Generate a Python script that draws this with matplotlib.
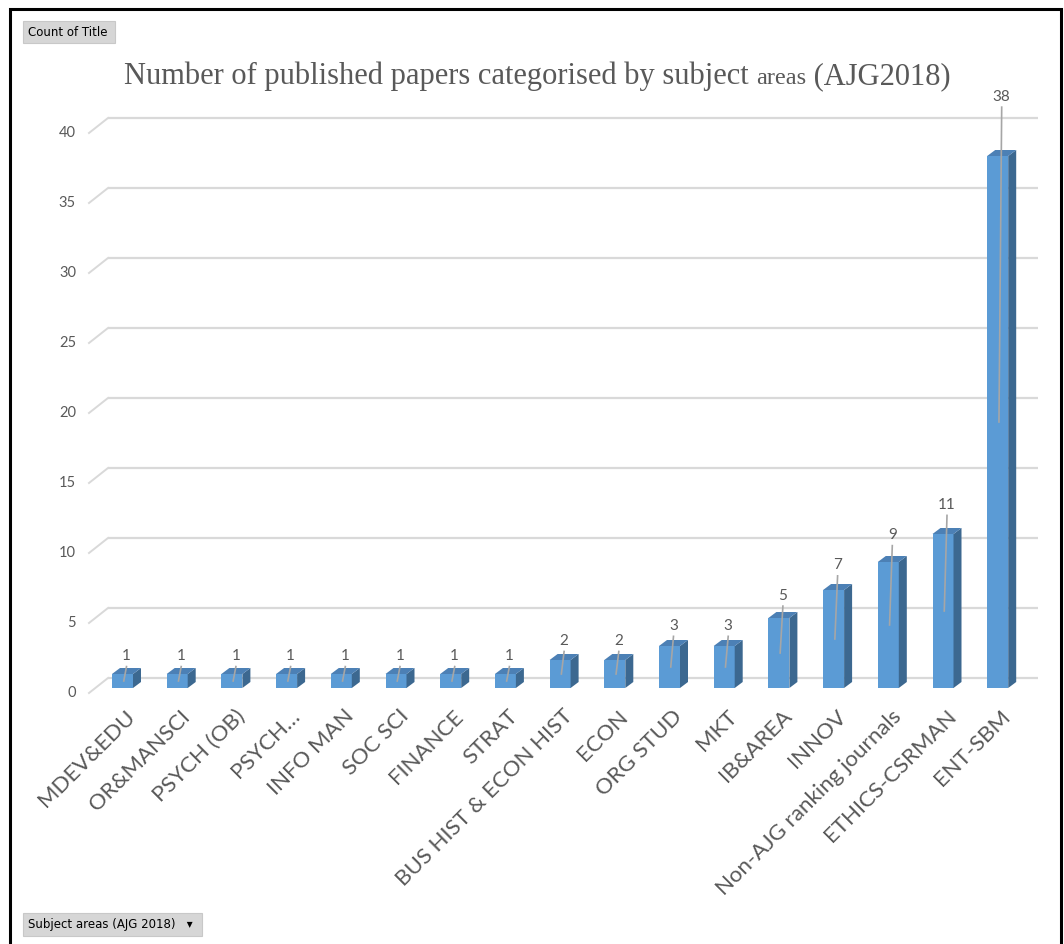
import matplotlib.pyplot as plt
from matplotlib.patches import Polygon, Rectangle
import numpy as np

# ---------------- data ----------------
categories = ["MDEV&EDU", "OR&MANSCI", "PSYCH (OB)", "PSYCH…", "INFO MAN", "SOC SCI",
              "FINANCE", "STRAT", "BUS HIST & ECON HIST", "ECON", "ORG STUD", "MKT",
              "IB&AREA", "INNOV", "Non-AJG ranking journals", "ETHICS-CSRMAN", "ENT-SBM"]
counts = [1, 1, 1, 1, 1, 1, 1, 1, 2, 2, 3, 3, 5, 7, 9, 11, 38]
y_ticks = [0, 5, 10, 15, 20, 25, 30, 35, 40]

title_parts = ["Number of published papers categorised by subject ", "areas", " (AJG2018)"]

# ---------------- styles ----------------
FRONT = "#5B9BD5"
SIDE = "#3C6890"
TOP = "#4C80B5"
GRID = "#D9D9D9"
TXT = "#595959"
LEADER = "#A6A6A6"
SANS = ["Lato", "DejaVu Sans"]

W, H = 1064, 944
fig = plt.figure(figsize=(W / 100, H / 100), dpi=100)
fig.patch.set_facecolor("white")

# pixel layout of the plot area (category index / value -> pixels)
X0, DX = 122.5, 54.7
Y0, DY = 688.0, 14.0
xlo, xhi = -0.75, 16.8
ylo, yhi = -0.6, 43.0
left = (X0 + DX * xlo) / W
right = (X0 + DX * xhi) / W
bottom = (H - (Y0 - DY * ylo)) / H
top = (H - (Y0 - DY * yhi)) / H
ax = fig.add_axes([left, bottom, right - left, top - bottom])
ax.set_xlim(xlo, xhi)
ax.set_ylim(ylo, yhi)
ax.axis("off")

# ---------------- back wall grid (3D look) ----------------
front_x = (89 - X0) / DX
back_x = (108 - X0) / DX
end_x = (1038 - X0) / DX
front_dy = -5 / DY
back_dy = 10 / DY
for v in y_ticks:
    ax.plot([back_x, end_x], [v + back_dy, v + back_dy], color=GRID, lw=1.6,
            zorder=1, clip_on=False, solid_capstyle="butt")
    ax.plot([front_x, back_x], [v + front_dy, v + back_dy], color=GRID, lw=1.4,
            zorder=1, clip_on=False)
    ax.text((76 - X0) / DX, v + front_dy, str(v), ha="right", va="center",
            fontsize=10.5, color=TXT, family=SANS)

# ---------------- bars ----------------
x = np.arange(len(categories))
bw = 21 / DX
ddx = 8 / DX
ddy = 6 / DY
bars = ax.bar(x, counts, width=bw, color=FRONT, zorder=3, linewidth=0)
for b in bars:
    bx, bwid, bh = b.get_x(), b.get_width(), b.get_height()
    side = Polygon([(bx + bwid, 0), (bx + bwid + ddx, ddy), (bx + bwid + ddx, bh + ddy),
                    (bx + bwid, bh)], closed=True, facecolor=SIDE, edgecolor="none", zorder=3)
    topf = Polygon([(bx, bh), (bx + ddx, bh + ddy), (bx + bwid + ddx, bh + ddy),
                    (bx + bwid, bh)], closed=True, facecolor=TOP, edgecolor="none", zorder=3)
    ax.add_patch(side)
    ax.add_patch(topf)

# ---------------- data labels with leader lines ----------------
for xi, v in zip(x, counts):
    ly = v + 1.2 + 0.08 * v
    lx = xi + ddx / 2
    ax.text(lx, ly, str(v), ha="center", va="center", fontsize=11, color=TXT,
            family=SANS, zorder=5)
    ax.plot([lx, lx - 0.05], [ly - 0.75, v / 2], color=LEADER, lw=1.2, zorder=4)

# ---------------- category labels ----------------
for xi, name in zip(x, categories):
    ax.text(xi + 0.05, -1.3, name, rotation=45, rotation_mode="anchor",
            ha="right", va="top", fontsize=16, color=TXT, family=SANS, clip_on=False)

# ---------------- title (mixed sizes) ----------------
sizes = [22, 17.5, 22]
renderer = fig.canvas.get_renderer()
pieces = []
for txt, s in zip(title_parts, sizes):
    t = fig.text(0, 1 - 84 / H, txt, fontsize=s, color=TXT, ha="left", va="baseline",
                 family=["Liberation Serif", "DejaVu Serif"])
    pieces.append(t)
widths = [p.get_window_extent(renderer).width for p in pieces]
start = 537 - sum(widths) / 2
for p, wdt in zip(pieces, widths):
    p.set_x(start / W)
    start += wdt

# ---------------- pivot buttons ----------------
def button(x0, y0, x1, y1, label):
    fig.patches.append(Rectangle((x0 / W, 1 - y1 / H), (x1 - x0) / W, (y1 - y0) / H,
                                 transform=fig.transFigure, facecolor="#D6D6D6",
                                 edgecolor="#C8C8C8", lw=0.8))
    fig.text((x0 + 5) / W, 1 - (y0 + y1) / 2 / H, label, ha="left", va="center",
             fontsize=8.5, color="black", family=["DejaVu Sans"])

button(23, 21, 115, 43, "Count of Title")
button(23, 913, 202, 936, "Subject areas (AJG 2018)   ▾")

# ---------------- outer frame ----------------
fig.patches.append(Rectangle((10 / W, -0.05), 1051 / W, 1 - 9 / H + 0.05,
                             transform=fig.transFigure, fill=False,
                             edgecolor="black", lw=2.2))

plt.savefig("out.png", dpi=100, facecolor="white")
